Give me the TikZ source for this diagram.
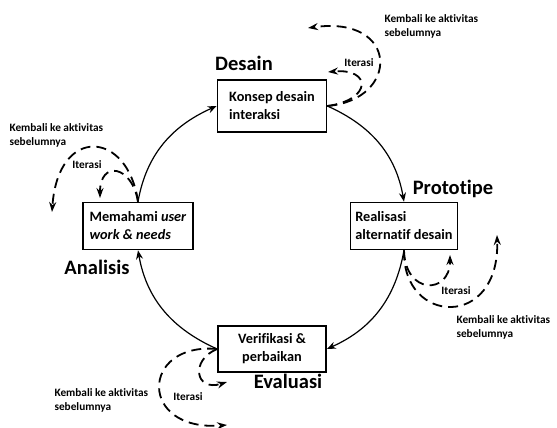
\documentclass[tikz,border=0pt]{standalone}
\usepackage{fontspec}
\setmainfont{Carlito}[RawFeature={-liga;-clig;-dlig}]
\usetikzlibrary{arrows.meta}

\tikzset{
  stagebox/.style={draw, line width=1.6pt, inner xsep=3pt, inner ysep=2pt,
    font=\fontsize{14.3}{18}\selectfont\bfseries},
  phaselabel/.style={font=\fontsize{20.5}{24}\selectfont\bfseries},
  notelabel/.style={font=\fontsize{11.3}{14}\selectfont\bfseries, align=left},
  cycleline/.style={line width=1.2pt, -{Stealth[length=9pt,width=7pt]}},
  loopline/.style={line width=1.8pt, dash pattern=on 10pt off 6pt,
    -{Stealth[length=10pt,width=7pt]}},
}

\begin{document}
\begin{tikzpicture}[x=1pt,y=1pt]
  \useasboundingbox (0,0) rectangle (557,-428);

  % stages of the cycle
  \node[stagebox, minimum width=109, minimum height=52, align=left]
    (konsep) at (272,-106) {Konsep desain\\interaksi};
  \node[stagebox, minimum width=110, minimum height=47, align=left]
    (memahami) at (138,-226) {Memahami \textit{user}\\\textit{work \& needs}};
  \node[stagebox, minimum width=107, minimum height=47, align=left]
    (realisasi) at (404,-226) {Realisasi\\alternatif desain};
  \node[stagebox, minimum width=108, minimum height=46, align=center]
    (verifikasi) at (272,-349) {Verifikasi \&\\perbaikan};

  % phase names
  \node[phaselabel] (desain) at (244,-63) {Desain};
  \node[phaselabel] (prototipe) at (453,-189) {Prototipe};
  \node[phaselabel] (analisis) at (97,-267) {Analisis};
  \node[phaselabel] (evaluasi) at (288,-381) {Evaluasi};

  % main cycle
  \draw[cycleline] (memahami.north) to[out=80,in=204] (konsep.west);
  \draw[cycleline] (konsep.east) to[out=-24,in=100] (realisasi.north);
  \draw[cycleline] (realisasi.south) to[out=-100,in=24] (verifikasi.east);
  \draw[cycleline] (verifikasi.west) to[out=156,in=-80] (memahami.south);

  % loops back
  \coordinate (konsepit) at (328,-72);
  \coordinate (konsepback) at (308,-28);
  \draw[loopline] (konsep.east) .. controls (372,-100) and (372,-68) .. (konsepit);
  \draw[loopline] (konsep.east) .. controls (400,-100) and (400,-15) .. (konsepback);
  \node[notelabel] (itkonsep) at (359,-63) {Iterasi};
  \node[notelabel, anchor=west] (backkonsep) at (381,-26) {Kembali ke aktivitas\\sebelumnya};

  \coordinate (memahamiit) at (100,-198);
  \coordinate (memahamiback) at (52,-212);
  \draw[loopline] (memahami.north) .. controls (132,-165) and (100,-160) .. (memahamiit);
  \draw[loopline] (memahami.north) .. controls (128,-130) and (58,-125) .. (memahamiback);
  \node[notelabel] (itmemahami) at (87,-165) {Iterasi};
  \node[notelabel, anchor=west] (backmemahami) at (6,-135) {Kembali ke aktivitas\\sebelumnya};

  \coordinate (realisasiit) at (450,-255);
  \coordinate (realisasiback) at (497,-235);
  \draw[loopline] (realisasi.south) .. controls (405,-295) and (450,-295) .. (realisasiit);
  \draw[loopline] (realisasi.south) .. controls (402,-325) and (500,-330) .. (realisasiback);
  \node[notelabel] (itrealisasi) at (456,-291) {Iterasi};
  \node[notelabel, anchor=west] (backrealisasi) at (453,-327) {Kembali ke aktivitas\\sebelumnya};

  \coordinate (verifikasiit) at (227,-382);
  \coordinate (verifikasiback) at (227,-425);
  \draw[loopline] (verifikasi.west) .. controls (190,-360) and (195,-392) .. (verifikasiit);
  \draw[loopline] (verifikasi.west) .. controls (140,-342) and (138,-432) .. (verifikasiback);
  \node[notelabel] (itverifikasi) at (188,-397) {Iterasi};
  \node[notelabel, anchor=west] (backverifikasi) at (51,-400) {Kembali ke aktivitas\\sebelumnya};
\end{tikzpicture}
\end{document}
